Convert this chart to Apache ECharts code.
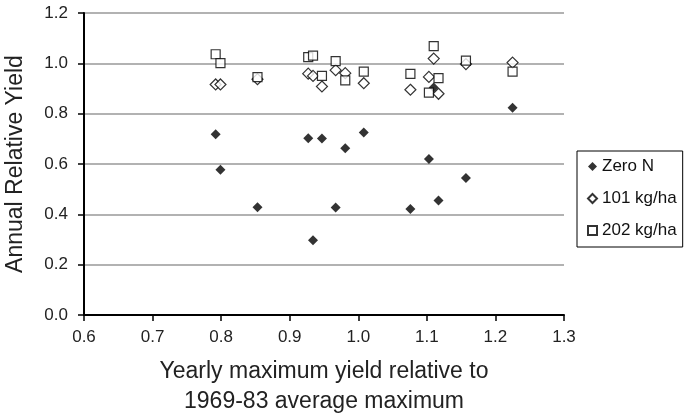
<!DOCTYPE html>
<html>
<head>
<meta charset="utf-8">
<script src="https://cdn.jsdelivr.net/npm/echarts@6/dist/echarts.min.js"></script>
<style>
html,body{margin:0;padding:0;background:#fff;}
#chart{width:685px;height:419px;}
</style>
</head>
<body>
<div id="chart"></div>
<script>
const xValues = [0.792, 0.799, 0.853, 0.927, 0.934, 0.947, 0.967, 0.981, 1.008, 1.076, 1.103, 1.110, 1.117, 1.157, 1.225];
const zeroN   = [0.718, 0.577, 0.428, 0.702, 0.297, 0.701, 0.427, 0.663, 0.725, 0.421, 0.620, 0.904, 0.455, 0.544, 0.824];
const n101    = [0.916, 0.916, 0.937, 0.959, 0.950, 0.908, 0.973, 0.961, 0.921, 0.895, 0.946, 1.019, 0.879, 0.997, 1.003];
const n202    = [1.036, 1.001, 0.945, 1.025, 1.031, 0.950, 1.009, 0.932, 0.967, 0.958, 0.884, 1.068, 0.941, 1.011, 0.967];
const seriesNames = ['Zero N', '101 kg/ha', '202 kg/ha'];
const xTitle = 'Yearly maximum yield relative to\n1969-83 average maximum';
const yTitle = 'Annual Relative Yield';

const pairs = ys => xValues.map((x, i) => [x, ys[i]]);
const font = "Arial, 'Liberation Sans', sans-serif";

const chart = echarts.init(document.getElementById('chart'), null, {renderer: 'canvas'});
chart.setOption({
  animation: false,
  backgroundColor: '#fff',
  textStyle: {fontFamily: font},
  grid: {left: 84, right: 121, top: 13, bottom: 104, containLabel: false, outerBoundsMode: 'none'},
  legend: {
    orient: 'vertical',
    left: 577, top: 151,
    padding: [7, 6, 8, 10],
    itemWidth: 9, itemHeight: 9, itemGap: 15,
    itemTextGap: 3,
    borderColor: '#000', borderWidth: 1,
    textStyle: {fontFamily: font, fontSize: 17, color: '#111'},
    data: seriesNames
  },
  xAxis: {
    type: 'value', min: 0.6, max: 1.3, interval: 0.1,
    name: xTitle, nameLocation: 'middle', nameGap: 42,
    nameTextStyle: {fontFamily: font, fontSize: 23, color: '#222', lineHeight: 30},
    axisLine: {show: true, onZero: false, lineStyle: {color: '#000', width: 2}},
    axisTick: {show: true, inside: false, length: 6, lineStyle: {color: '#000', width: 1.5}},
    axisLabel: {fontFamily: font, fontSize: 17, color: '#222', margin: 14, formatter: v => v.toFixed(1)},
    splitLine: {show: false}
  },
  yAxis: {
    type: 'value', min: 0, max: 1.2, interval: 0.2,
    name: yTitle, nameLocation: 'middle', nameGap: 57, nameRotate: 90,
    nameTextStyle: {fontFamily: font, fontSize: 23, color: '#222'},
    axisLine: {show: true, onZero: false, lineStyle: {color: '#000', width: 2}},
    axisTick: {show: true, inside: false, length: 6, lineStyle: {color: '#000', width: 1.5}},
    axisLabel: {fontFamily: font, fontSize: 17, color: '#222', margin: 16, formatter: v => v.toFixed(1)},
    splitLine: {show: true, lineStyle: {color: '#999', width: 1.5}}
  },
  series: [
    {name: seriesNames[0], type: 'scatter', symbol: 'diamond', symbolSize: 10,
     itemStyle: {color: '#000'}, data: pairs(zeroN)},
    {name: seriesNames[1], type: 'scatter', symbol: 'diamond', symbolSize: 11,
     itemStyle: {color: '#fff', borderColor: '#000', borderWidth: 1.2}, data: pairs(n101)},
    {name: seriesNames[2], type: 'scatter', symbol: 'rect', symbolSize: 9,
     itemStyle: {color: '#fff', borderColor: '#000', borderWidth: 1.2}, data: pairs(n202)}
  ]
});
</script>
</body>
</html>
